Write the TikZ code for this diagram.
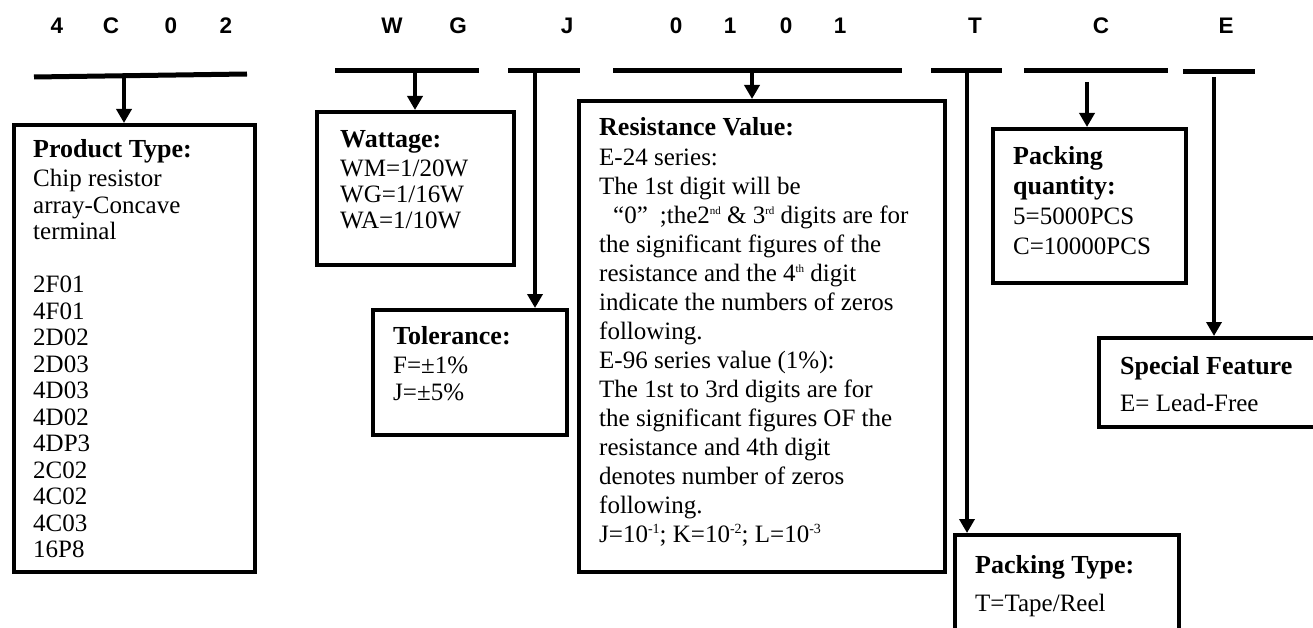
\documentclass[tikz,border=0pt]{standalone}
\usepackage{fontspec}
\setmainfont{Liberation Serif}
\newfontfamily\headfont{Liberation Sans}
\usetikzlibrary{arrows.meta}
\newcommand\supsm[1]{\raisebox{9pt}{\fontsize{11}{11}\selectfont #1}}
\newcommand\supex[1]{\raisebox{9pt}{\fontsize{14}{14}\selectfont #1}}
\newcommand\tb[1]{{\bfseries\fontsize{26}{26}\selectfont #1}}
\begin{document}
\begin{tikzpicture}[x=1pt,y=-1pt,
  head/.style={font=\headfont\bfseries\fontsize{22.5}{22.5}\selectfont, anchor=base, inner sep=0pt},
  barline/.style={line width=5pt},
  arr/.style={line width=3.8pt, -{Triangle[width=15pt,length=14pt]}},
  box/.style={draw, line width=4.2pt, anchor=north west, inner sep=0pt},
  txt/.style={anchor=north west, align=left, inner sep=0pt}]
\useasboundingbox (0,0) rectangle (1313,628);
\clip (0,0) rectangle (1313,628);
% header
\node[head] (h1) at (57,34) {4};
\node[head] (h2) at (111,34) {C};
\node[head] (h3) at (171,34) {0};
\node[head] (h4) at (226,34) {2};
\node[head] (h5) at (392,34) {W};
\node[head] (h6) at (458,34) {G};
\node[head] (h7) at (567,34) {J};
\node[head] (h8) at (676,34) {0};
\node[head] (h9) at (730,34) {1};
\node[head] (h10) at (786,34) {0};
\node[head] (h11) at (840,34) {1};
\node[head] (h12) at (975,34) {T};
\node[head] (h13) at (1101,34) {C};
\node[head] (h14) at (1226,34) {E};
% bars
\coordinate (b1l) at (34,77);   \coordinate (b1r) at (247,74);
\coordinate (b2l) at (335,71);  \coordinate (b2r) at (479,71);
\coordinate (b3l) at (508,71);  \coordinate (b3r) at (580,71);
\coordinate (b4l) at (613,71);  \coordinate (b4r) at (902,71);
\coordinate (b5l) at (931,71);  \coordinate (b5r) at (1002,71);
\coordinate (b6l) at (1024,71); \coordinate (b6r) at (1168,71);
\coordinate (b7l) at (1183,72); \coordinate (b7r) at (1255,72);
\foreach \i in {1,...,7} {\draw[barline] (b\i l) -- (b\i r);}
% boxes
\node[box, minimum width=241pt, minimum height=447pt] (box1) at (12,123) {};
\node[box, minimum width=197pt, minimum height=153pt] (box2) at (315,110) {};
\node[box, minimum width=194pt, minimum height=125pt] (box3) at (371,308) {};
\node[box, minimum width=366pt, minimum height=471pt] (box4) at (577,99) {};
\node[box, minimum width=224pt, minimum height=130pt] (box5) at (953,533) {};
\node[box, minimum width=193pt, minimum height=154pt] (box6) at (991,127) {};
\node[box, minimum width=240pt, minimum height=89pt] (box7) at (1097,336) {};
% connectors
\coordinate (a1) at (124,75.5);
\coordinate (a2) at (415,71);
\coordinate (a3) at (535,71);
\coordinate (a4) at (752,71);
\coordinate (a5) at (967,71);
\coordinate (a6) at (1087,82);
\coordinate (a7) at (1214,77);
\draw[arr] (a1) -- (a1 |- box1.north);
\draw[arr] (a2) -- (a2 |- box2.north);
\draw[arr] (a3) -- (a3 |- box3.north);
\draw[arr] (a4) -- (a4 |- box4.north);
\draw[arr] (a5) -- (a5 |- box5.north);
\draw[arr] (a6) -- (a6 |- box6.north);
\draw[arr] (a7) -- (a7 |- box7.north);
% texts
\node[txt, font=\fontsize{25}{26.5}\selectfont] (t1) at (33,139)
 {\tb{Product Type:}\\[3pt]
  Chip resistor\\ array-Concave\\ terminal\\[26.5pt]
  2F01\\ 4F01\\ 2D02\\ 2D03\\ 4D03\\ 4D02\\ 4DP3\\ 2C02\\ 4C02\\ 4C03\\ 16P8};
\node[txt, font=\fontsize{25}{26}\selectfont] (t2) at (340,130)
 {\tb{Wattage:}\\[3pt] WM=1/20W\\ WG=1/16W\\ WA=1/10W};
\node[txt, font=\fontsize{25}{27}\selectfont] (t3) at (393,326)
 {\tb{Tolerance:}\\[2pt] F=±1\%\\ J=±5\%};
\node[txt, font=\fontsize{25}{29}\selectfont] (t4) at (599,117)
 {\tb{Resistance Value:}\\[1pt]
  E-24 series:\\
  The 1st digit will be\\
  \hspace*{14pt}“0”\hspace{12pt};the2\supsm{nd} \& 3\supsm{rd} digits are for\\
  the significant figures of the\\
  resistance and the 4\supsm{th} digit\\
  indicate the numbers of zeros\\
  following.\\
  E-96 series value (1\%):\\
  The 1st to 3rd digits are for\\
  the significant figures OF the\\
  resistance and 4th digit\\
  denotes number of zeros\\
  following.\\
  J=10\supex{-1}; K=10\supex{-2}; L=10\supex{-3}};
\node[txt, font=\fontsize{25}{38}\selectfont] (t5) at (975,555)
 {\tb{Packing Type:}\\ T=Tape/Reel};
\node[txt, font=\fontsize{25}{30}\selectfont] (t6) at (1013,146)
 {\tb{Packing}\\ \tb{quantity:}\\ 5=5000PCS\\ C=10000PCS};
\node[txt, font=\fontsize{25}{37}\selectfont] (t7) at (1120,356)
 {\tb{Special Feature}\\ E= Lead-Free};
\end{tikzpicture}
\end{document}
